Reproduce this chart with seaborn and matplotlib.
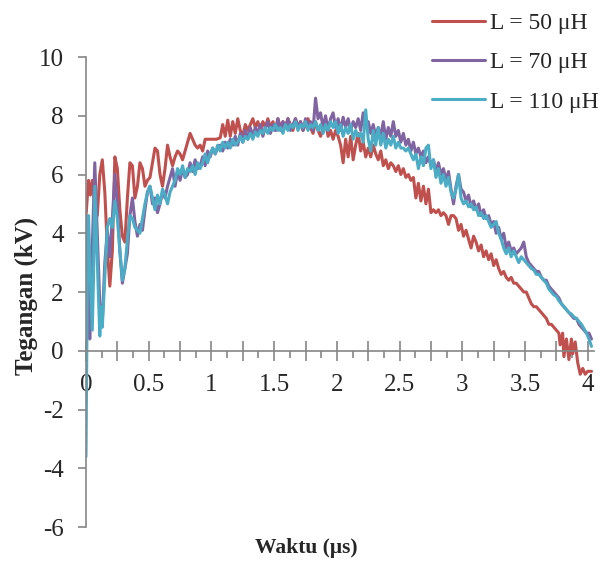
import matplotlib
matplotlib.use("Agg")
import matplotlib.pyplot as plt
import seaborn as sns
import pandas as pd
from matplotlib.ticker import MultipleLocator, FuncFormatter

red_t = [0.00, 0.02, 0.035, 0.05, 0.07, 0.09, 0.11, 0.13, 0.15, 0.17, 0.19, 0.21, 0.23, 0.25, 0.27, 0.29,
         0.31, 0.33, 0.35, 0.37, 0.39, 0.41, 0.43, 0.45, 0.47, 0.49, 0.51, 0.53, 0.55, 0.57, 0.59, 0.61,
         0.63, 0.65, 0.67, 0.69, 0.71, 0.73, 0.75, 0.77, 0.79, 0.81, 0.83, 0.85, 0.87, 0.89, 0.91, 0.93,
         0.95, 0.98, 1.01, 1.04, 1.07, 1.09, 1.11, 1.13, 1.15, 1.17, 1.19, 1.21, 1.23, 1.25, 1.27, 1.29,
         1.31, 1.33, 1.35, 1.37, 1.39, 1.41, 1.43, 1.45, 1.47, 1.49, 1.51, 1.53, 1.55, 1.57, 1.59, 1.61,
         1.63, 1.65, 1.67, 1.69, 1.71, 1.73, 1.75, 1.77, 1.79, 1.81, 1.83, 1.85, 1.87, 1.89, 1.91, 1.93,
         1.95, 1.97, 1.99, 2.01, 2.03, 2.05, 2.07, 2.09, 2.11, 2.13, 2.15, 2.17, 2.19, 2.21, 2.23, 2.25,
         2.27, 2.29, 2.31, 2.33, 2.35, 2.37, 2.39, 2.41, 2.43, 2.45, 2.47, 2.49, 2.51, 2.53, 2.55, 2.57,
         2.59, 2.61, 2.63, 2.65, 2.67, 2.69, 2.71, 2.73, 2.75, 2.77, 2.79, 2.81, 2.83, 2.85, 2.87, 2.89,
         2.91, 2.93, 2.95, 2.97, 2.99, 3.01, 3.03, 3.05, 3.07, 3.09, 3.11, 3.13, 3.15, 3.17, 3.19, 3.21,
         3.23, 3.25, 3.27, 3.29, 3.31, 3.33, 3.35, 3.37, 3.39, 3.41, 3.43, 3.45, 3.47, 3.49, 3.51, 3.53,
         3.55, 3.57, 3.59, 3.61, 3.63, 3.65, 3.67, 3.69, 3.71, 3.73, 3.75, 3.77, 3.78, 3.80, 3.81, 3.83,
         3.85, 3.87, 3.88, 3.90, 3.92, 3.94, 3.96, 3.98, 4.00, 4.03]
red_v = [4.6, 5.8, 5.3, 5.8, 5.0, 4.6, 6.0, 6.5, 5.4, 3.5, 2.2, 3.4, 6.6, 6.2, 4.8, 3.9,
         3.7, 5.2, 6.4, 6.3, 5.2, 5.6, 6.4, 6.2, 5.6, 5.8, 5.9, 6.4, 6.9, 6.8, 6.0, 5.6,
         6.2, 7.0, 6.6, 6.3, 6.6, 6.8, 6.7, 6.5, 6.8, 7.1, 7.4, 7.2, 7.0, 6.9, 7.0, 6.8,
         7.2, 7.2, 7.2, 7.2, 7.25, 7.7, 7.3, 7.85, 7.3, 7.8, 7.4, 7.9, 7.5, 7.3, 7.7, 7.5,
         7.7, 7.9, 7.6, 7.8, 7.5, 7.8, 7.6, 7.9, 7.6, 7.8, 7.5, 7.9, 7.6, 7.8, 7.6, 7.9,
         7.7, 7.5, 7.9, 7.6, 7.8, 7.5, 7.7, 7.9, 7.6, 7.4, 7.8, 7.5, 7.3, 7.6, 7.8, 7.3,
         7.5, 7.2, 7.5, 7.3, 7.0, 6.4, 7.2, 6.6, 7.3, 6.5, 7.0, 7.4, 6.8, 7.1, 6.6, 6.9,
         6.6, 7.0, 6.7, 6.5, 6.8, 6.3, 6.5, 6.2, 6.4, 6.3, 6.1, 6.3, 6.0, 6.2, 5.9, 6.0,
         5.8, 5.9, 5.2, 5.7, 5.1, 5.6, 5.0, 5.5, 4.7, 4.8, 4.7, 4.8, 4.6, 4.7, 4.6, 4.3,
         4.6, 4.6, 4.5, 4.1, 4.3, 3.9, 4.1, 3.8, 3.5, 3.9, 3.7, 3.4, 3.6, 3.2, 3.4, 3.1,
         3.3, 2.9, 3.1, 2.8, 2.6, 2.7, 2.5, 2.4, 2.5, 2.3, 2.3, 2.2, 2.1, 2.0, 2.0, 1.8,
         1.6, 1.5, 1.5, 1.4, 1.3, 1.2, 1.1, 0.9, 0.9, 0.8, 0.7, 0.6, 0.2, 0.6, -0.2, 0.4,
         -0.3, 0.4, -0.1, 0.3, -0.4, -0.8, -0.6, -0.8, -0.7, -0.7]

purple_t = [0.00, 0.01, 0.02, 0.03, 0.05, 0.07, 0.09, 0.11, 0.13, 0.15, 0.17, 0.19, 0.21, 0.23, 0.25, 0.27,
            0.29, 0.31, 0.33, 0.35, 0.37, 0.39, 0.41, 0.43, 0.45, 0.47, 0.49, 0.51, 0.53, 0.55, 0.57, 0.59,
            0.61, 0.63, 0.65, 0.67, 0.69, 0.71, 0.73, 0.75, 0.77, 0.79, 0.81, 0.83, 0.85, 0.87, 0.89, 0.91,
            0.93, 0.95, 0.97, 0.99, 1.01, 1.03, 1.05, 1.07, 1.09, 1.11, 1.13, 1.15, 1.17, 1.19, 1.21, 1.23,
            1.25, 1.27, 1.29, 1.31, 1.33, 1.35, 1.37, 1.39, 1.41, 1.43, 1.45, 1.47, 1.49, 1.51, 1.53, 1.55,
            1.57, 1.59, 1.61, 1.63, 1.65, 1.67, 1.69, 1.71, 1.73, 1.75, 1.77, 1.79, 1.81, 1.83, 1.85, 1.87,
            1.89, 1.91, 1.93, 1.95, 1.97, 1.99, 2.01, 2.03, 2.05, 2.07, 2.09, 2.11, 2.13, 2.15, 2.17, 2.19,
            2.21, 2.23, 2.25, 2.27, 2.29, 2.31, 2.33, 2.35, 2.37, 2.39, 2.41, 2.43, 2.45, 2.47, 2.49, 2.51,
            2.53, 2.55, 2.57, 2.59, 2.61, 2.63, 2.65, 2.67, 2.69, 2.71, 2.73, 2.75, 2.77, 2.79, 2.81, 2.83,
            2.85, 2.87, 2.89, 2.91, 2.93, 2.95, 2.97, 2.99, 3.01, 3.03, 3.05, 3.07, 3.09, 3.11, 3.13, 3.15,
            3.17, 3.19, 3.21, 3.23, 3.25, 3.27, 3.29, 3.31, 3.33, 3.35, 3.37, 3.39, 3.41, 3.43, 3.45, 3.47,
            3.49, 3.51, 3.53, 3.55, 3.57, 3.59, 3.61, 3.63, 3.65, 3.67, 3.69, 3.71, 3.73, 3.75, 3.77, 3.79,
            3.81, 3.83, 3.85, 3.87, 3.89, 3.91, 3.93, 3.95, 3.97, 3.99, 4.01, 4.03]
purple_v = [1.5, 4.5, 2.0, 0.4, 3.5, 6.4, 4.0, 1.6, 1.0, 3.0, 4.1, 3.2, 4.5, 6.0, 5.0, 3.4,
            2.3, 2.8, 3.3, 4.6, 5.2, 4.4, 3.9, 4.3, 4.1, 4.8, 5.4, 5.6, 5.0, 5.2, 4.7, 5.0,
            5.4, 5.2, 5.6, 5.9, 6.2, 5.6, 6.1, 5.8, 6.2, 5.9, 6.0, 6.4, 6.1, 6.5, 6.2, 6.3,
            6.6, 6.3, 6.8, 6.6, 6.9, 6.7, 6.9, 7.0, 6.8, 7.1, 6.9, 7.2, 7.0, 7.3, 7.0, 7.4,
            7.1, 7.5, 7.2, 7.6, 7.3, 7.6, 7.4, 7.7, 7.3, 7.6, 7.8, 7.4, 7.7, 7.5, 7.9, 7.5,
            7.8, 7.6, 7.9, 7.5, 7.7, 7.9, 7.6, 7.8, 7.5, 7.9, 7.6, 7.8, 7.5, 8.6, 7.9, 8.1,
            7.6, 8.0, 7.5, 7.9, 8.1, 7.6, 7.9, 7.5, 7.95, 7.6, 7.9, 7.5, 7.8, 7.6, 7.9, 7.5,
            8.1, 7.6, 7.8, 7.4, 7.7, 7.3, 7.6, 7.3, 7.8, 7.2, 7.6, 7.3, 7.8, 7.3, 7.5, 7.1,
            7.4, 7.0, 7.2, 6.8, 7.1, 6.7, 6.9, 6.6, 6.8, 6.4, 6.6, 6.3, 6.5, 6.1, 6.4, 6.0,
            6.2, 5.8, 6.1, 5.5, 5.0, 5.6, 6.0, 5.5, 5.4, 5.1, 5.3, 4.9, 5.1, 4.8, 5.0, 4.6,
            4.8, 4.5, 4.6, 4.3, 4.4, 4.0, 4.2, 3.8, 4.0, 3.5, 3.7, 3.4, 3.5, 3.3, 3.4, 3.5,
            3.7, 3.2, 3.0, 2.9, 2.8, 2.7, 2.7, 2.5, 2.4, 2.4, 2.2, 2.1, 2.0, 1.9, 1.8, 1.6,
            1.5, 1.4, 1.3, 1.2, 1.1, 1.1, 0.9, 0.8, 0.7, 0.6, 0.6, 0.4]

teal_t = [0.00, 0.01, 0.02, 0.035, 0.05, 0.06, 0.07, 0.09, 0.11, 0.12, 0.13, 0.15, 0.17, 0.19, 0.21, 0.23,
          0.25, 0.27, 0.29, 0.31, 0.33, 0.35, 0.37, 0.39, 0.41, 0.43, 0.45, 0.47, 0.49, 0.51, 0.53, 0.55,
          0.57, 0.59, 0.61, 0.63, 0.65, 0.67, 0.69, 0.71, 0.73, 0.75, 0.77, 0.79, 0.81, 0.83, 0.85, 0.87,
          0.89, 0.91, 0.93, 0.95, 0.97, 0.99, 1.01, 1.03, 1.05, 1.07, 1.09, 1.11, 1.13, 1.15, 1.17, 1.19,
          1.21, 1.23, 1.25, 1.27, 1.29, 1.31, 1.33, 1.35, 1.37, 1.39, 1.41, 1.43, 1.45, 1.47, 1.49, 1.51,
          1.53, 1.55, 1.57, 1.59, 1.61, 1.63, 1.65, 1.67, 1.69, 1.71, 1.73, 1.75, 1.77, 1.79, 1.81, 1.83,
          1.85, 1.87, 1.89, 1.91, 1.93, 1.95, 1.97, 1.99, 2.01, 2.03, 2.05, 2.07, 2.09, 2.11, 2.13, 2.15,
          2.17, 2.19, 2.21, 2.23, 2.25, 2.27, 2.29, 2.31, 2.33, 2.35, 2.37, 2.39, 2.41, 2.43, 2.45, 2.47,
          2.49, 2.51, 2.53, 2.55, 2.57, 2.59, 2.61, 2.63, 2.65, 2.67, 2.69, 2.71, 2.73, 2.75, 2.77, 2.79,
          2.81, 2.83, 2.85, 2.87, 2.89, 2.91, 2.93, 2.95, 2.97, 2.99, 3.01, 3.03, 3.05, 3.07, 3.09, 3.11,
          3.13, 3.15, 3.17, 3.19, 3.21, 3.23, 3.25, 3.27, 3.29, 3.31, 3.33, 3.35, 3.37, 3.39, 3.41, 3.43,
          3.45, 3.47, 3.49, 3.51, 3.53, 3.55, 3.57, 3.59, 3.61, 3.63, 3.65, 3.67, 3.69, 3.71, 3.73, 3.75,
          3.77, 3.79, 3.81, 3.83, 3.85, 3.87, 3.89, 3.91, 3.93, 3.95, 3.97, 3.99, 4.01, 4.03]
teal_v = [-3.6, 2.0, 4.6, 2.5, 0.7, 2.5, 5.6, 3.0, 0.5, 1.5, 0.8, 2.5, 4.2, 4.5, 4.2, 5.1,
          4.5, 3.4, 2.4, 2.8, 3.8, 4.6, 4.5, 4.2, 4.1, 4.0, 4.5, 5.0, 5.4, 5.6, 5.2, 4.8,
          5.3, 5.0, 5.5, 5.3, 5.0, 5.4, 5.6, 5.8, 6.2, 6.0, 6.3, 5.9, 6.2, 6.1, 6.3, 6.0,
          6.4, 6.2, 6.4, 6.7, 6.4, 6.7, 6.9, 6.7, 7.0, 6.8, 7.1, 6.9, 7.1, 6.9, 7.2, 7.0,
          7.1, 7.3, 7.1, 7.3, 7.2, 7.4, 7.2, 7.45, 7.3, 7.5, 7.4, 7.6, 7.4, 7.6, 7.5, 7.7,
          7.5, 7.6, 7.4, 7.7, 7.5, 7.7, 7.6, 7.8, 7.5, 7.7, 7.6, 7.8, 7.5, 7.7, 7.6, 7.8,
          7.5, 7.7, 7.4, 7.7, 7.5, 7.8, 7.6, 7.8, 7.4, 7.7, 7.3, 7.6, 7.4, 7.7, 7.2, 7.5,
          7.3, 7.4, 7.1, 8.2, 7.2, 6.8, 7.5, 7.0, 7.6, 7.0, 7.4, 6.9, 7.2, 7.0, 7.3, 6.9,
          7.1, 6.9, 6.9, 6.8, 6.9, 6.7, 6.5, 6.7, 6.2, 6.6, 6.3, 6.9, 7.0, 6.2, 6.5, 5.9,
          6.2, 5.7, 6.0, 5.6, 5.9, 5.4, 5.2, 5.5, 6.0, 5.2, 5.0, 5.1, 4.9, 5.0, 4.8, 4.9,
          4.6, 4.7, 4.5, 4.6, 4.4, 4.2, 4.3, 4.4, 4.0, 3.8, 3.5, 3.3, 3.5, 3.2, 3.4, 3.2,
          3.0, 3.2, 3.1, 3.0, 2.9, 2.8, 2.75, 2.6, 2.6, 2.5, 2.4, 2.3, 2.1, 2.0, 1.9, 1.85,
          1.7, 1.6, 1.5, 1.4, 1.3, 1.25, 1.15, 1.1, 1.0, 0.9, 0.75, 0.6, 0.4, 0.15]

labels = ["L = 50 μH", "L = 70 μH", "L = 110 μH"]
colors = ["#C0504D", "#8064A2", "#4BACC6"]

frames = []
for lab, t, v in zip(labels, [red_t, purple_t, teal_t], [red_v, purple_v, teal_v]):
    frames.append(pd.DataFrame({"Waktu": t, "Tegangan": v, "Induktor": lab}))
df = pd.concat(frames, ignore_index=True)

sns.set_style("white")
plt.rcParams["font.family"] = ["Liberation Serif", "DejaVu Serif"]
plt.rcParams["axes.unicode_minus"] = False

fig = plt.figure(figsize=(6.11, 5.62), dpi=100)
ax = fig.add_axes([86 / 611, 1 - 527 / 562, (594 - 86) / 611, (527 - 57) / 562])

sns.lineplot(data=df, x="Waktu", y="Tegangan", hue="Induktor", palette=colors,
             estimator=None, sort=False, linewidth=2.2, ax=ax, legend=False)

ax.set_xlim(0, 4.05)
ax.set_ylim(-6, 10)

grey = "#868686"
for s in ["top", "right"]:
    ax.spines[s].set_visible(False)
ax.spines["bottom"].set_position(("data", 0))
ax.spines["left"].set_position(("data", 0))
for s in ["bottom", "left"]:
    ax.spines[s].set_color(grey)
    ax.spines[s].set_linewidth(1.2)

ax.xaxis.set_major_locator(MultipleLocator(0.25))
ax.xaxis.set_minor_locator(MultipleLocator(0.125))
ax.xaxis.set_major_formatter(FuncFormatter(
    lambda v, p: ("%g" % v) if abs(v * 2 - round(v * 2)) < 1e-6 else ""))
ax.yaxis.set_major_locator(MultipleLocator(2))
ax.tick_params(which="both", bottom=True, left=True)
ax.tick_params(axis="x", which="major", direction="inout", length=15, width=1.2, color=grey,
               labelsize=18, pad=9)
ax.tick_params(axis="x", which="minor", direction="out", length=5, width=1.2, color=grey)
ax.tick_params(axis="y", which="major", direction="out", length=6, width=1.2, color=grey,
               labelsize=18, pad=10)
ax.set_xlabel("")
ax.set_ylabel("")

fig.text(26 / 611, 1 - 296 / 562, "Tegangan (kV)", rotation=90, fontsize=18, fontweight="bold",
         ha="center", va="center")
fig.text(306 / 611, 1 - 548 / 562, "Waktu (μs)", fontsize=15.5, fontweight="bold",
         ha="center", va="center")

handles = [plt.Line2D([], [], color=c, linewidth=2.2) for c in colors]
fig.legend(handles, labels, loc="upper left", bbox_to_anchor=(427 / 611, 1 - 8 / 562),
           frameon=False, fontsize=17, handlelength=2.25, handletextpad=0.2, labelspacing=0.75,
           borderaxespad=0, borderpad=0.2)

fig.savefig("out.png", dpi=100)
